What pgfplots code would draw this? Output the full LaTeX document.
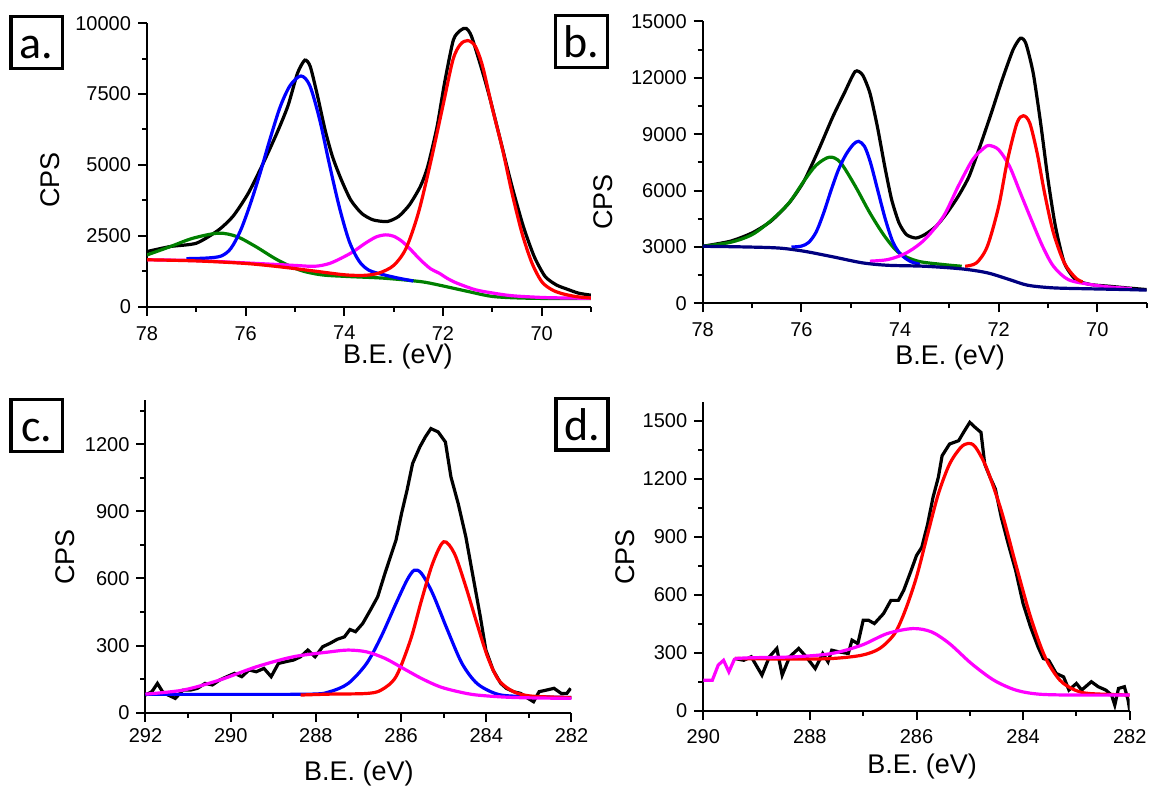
\documentclass[border=0pt]{standalone}
\usepackage{fontspec}
\setmainfont{Liberation Sans}
\newfontfamily\boxfont{Carlito}
\usepackage{pgfplots}
\pgfplotsset{compat=1.18}
\definecolor{cgreen}{RGB}{0,128,0}
\definecolor{cnavy}{RGB}{0,0,128}
\definecolor{cmag}{RGB}{255,0,255}
\definecolor{cred}{RGB}{255,0,0}
\definecolor{cblue}{RGB}{0,0,255}
\pgfplotsset{
  xps/.style={
    scale only axis,
    anchor=center,
    x dir=reverse,
    axis x line*=bottom,
    axis y line*=left,
    axis line style={line width=1pt,-},
    tick style={line width=1pt,black},
    tick align=outside,
    major tick length=4.5pt,
    minor tick length=2.5pt,
    tick label style={font=\fontsize{10}{12}\selectfont},
    /pgf/number format/assume math mode=true,
    /pgf/number format/1000 sep={},
    scaled y ticks=false,
    scaled x ticks=false,
    label style={font=\fontsize{13.5}{16}\selectfont},
    xlabel={B.E. (eV)},
    ylabel={CPS},
    every axis plot/.append style={line width=1.6pt,no marks},
  }
}
\tikzset{boxlab/.style={draw,line width=1.7pt,minimum width=25.9pt,minimum height=25.9pt,inner sep=0pt,text height=17pt,text depth=1pt,font=\boxfont\fontsize{23}{23}\selectfont}}
\begin{document}
\begin{tikzpicture}
\path[use as bounding box] (0,0) rectangle (575.5pt,-395.5pt);

% ---------------- panel a
\begin{axis}[xps,at={(184.5pt,-82.45pt)},width=222pt,height=141.6pt,
  xmin=69,xmax=78,ymin=0,ymax=10000,
  xtick={70,72,74,76,78},minor xtick={69,71,73,75,77},
  ytick={0,2500,5000,7500,10000},minor ytick={1250,3750,6250,8750},
  xticklabel style={yshift=-1.8pt},
  xlabel style={at={(axis description cs:0.565,-0.178)},anchor=center},
  ylabel style={at={(axis description cs:-0.218,0.447)},anchor=center}]
\addplot[black,smooth,tension=0.4] coordinates {
(78,1940) (77.52,2120) (77.0,2235) (76.55,2700) (76.25,3200) (75.95,3990) (75.66,5000) (75.36,6150) (75.14,7100) (74.95,8235) (74.80,8700) (74.69,8470) (74.54,7410) (74.39,6235) (74.24,5290) (74.06,4470) (73.87,3760) (73.65,3290) (73.42,3060) (73.13,3000) (72.90,3180) (72.68,3590) (72.46,4235) (72.31,4940) (72.12,6350) (71.97,7880) (71.79,9410) (71.64,9760) (71.53,9820) (71.42,9530) (71.19,8235) (71.04,7290) (70.82,5760) (70.6,4235) (70.37,2820) (70.15,1760) (69.93,1060) (69.7,760) (69.48,610) (69.25,470) (69.0,400)};
\addplot[cgreen,smooth] coordinates {
(78,1820) (77.52,2120) (77.07,2410) (76.55,2590) (76.18,2470) (75.8,2120) (75.36,1650) (74.91,1290) (74.47,1120) (73.94,1060) (73.2,1000) (72.46,880) (72.09,760) (71.49,530) (70.97,350) (70.2,290) (69,280)};
\addplot[cmag,smooth] coordinates {
(78,1650) (77,1620) (76,1540) (75,1450) (74.6,1420) (74.3,1520) (74.0,1760) (73.8,1960) (73.57,2240) (73.35,2460) (73.16,2530) (73.0,2480) (72.83,2300) (72.65,2000) (72.46,1650) (72.25,1330) (72.08,1180) (71.9,980) (71.71,820) (71.34,590) (70.97,470) (70.6,380) (70.0,320) (69.5,300) (69.0,290)};
\addplot[cblue,smooth] coordinates {
(77.2,1690) (76.8,1710) (76.5,1780) (76.3,2050) (76.1,2700) (75.9,3650) (75.7,4750) (75.5,5950) (75.3,7050) (75.1,7800) (74.88,8140) (74.7,7800) (74.5,6600) (74.3,5000) (74.1,3500) (73.9,2300) (73.7,1600) (73.5,1280) (73.2,1120) (72.9,1000) (72.6,900)};
\addplot[cred,smooth] coordinates {
(78,1650) (77,1610) (76,1520) (75.3,1400) (74.6,1250) (74.0,1120) (73.6,1100) (73.3,1180) (73.0,1450) (72.75,2050) (72.5,3300) (72.25,5100) (72.0,7100) (71.8,8700) (71.65,9250) (71.5,9390) (71.35,9200) (71.2,8500) (71.0,7000) (70.8,5600) (70.6,4000) (70.4,2600) (70.2,1550) (70.0,880) (69.8,600) (69.6,460) (69.3,350) (69.0,300)};
\end{axis}

% ---------------- panel b
\begin{axis}[xps,at={(462.35pt,-81.2pt)},width=222pt,height=141.1pt,
  xmin=69,xmax=78,ymin=0,ymax=15000,
  xtick={70,72,74,76,78},minor xtick={69,71,73,75,77},
  ytick={0,3000,6000,9000,12000,15000},minor ytick={1500,4500,7500,10500,13500},
  xticklabel style={yshift=-1.5pt},
  xlabel style={at={(axis description cs:0.557,-0.19)},anchor=center},
  ylabel style={at={(axis description cs:-0.2245,0.36)},anchor=center}]
\addplot[black,smooth,tension=0.4] coordinates {
(78,3040) (77.44,3310) (77.0,3750) (76.62,4370) (76.25,5340) (75.95,6490) (75.65,8170) (75.36,9940) (75.13,11180) (74.91,12330) (74.76,12150) (74.61,11180) (74.46,9410) (74.31,7290) (74.17,5520) (74.02,4280) (73.87,3660) (73.68,3480) (73.5,3660) (73.27,4100) (73.05,4810) (72.82,5700) (72.6,6760) (72.38,8350) (72.15,10120) (71.93,11890) (71.71,13480) (71.56,14100) (71.45,13830) (71.3,12240) (71.15,9590) (71.0,6580) (70.85,4100) (70.67,2160) (70.44,1270) (70.14,1010) (69.77,920) (69.4,830) (69.0,740)};
\addplot[cgreen,smooth] coordinates {
(78,3040) (77.44,3250) (77.0,3660) (76.62,4400) (76.25,5350) (75.95,6500) (75.7,7350) (75.43,7780) (75.21,7500) (74.91,6250) (74.61,4810) (74.31,3570) (74.02,2690) (73.64,2250) (73.12,2070) (72.75,1980)};
\addplot[cblue,smooth] coordinates {
(76.2,3000) (76.0,3050) (75.85,3250) (75.7,3800) (75.55,4800) (75.4,6000) (75.25,7100) (75.1,7900) (74.95,8450) (74.84,8620) (74.72,8350) (74.6,7500) (74.45,6000) (74.3,4500) (74.15,3300) (74.0,2650) (73.8,2250) (73.6,2080)};
\addplot[cmag,smooth] coordinates {
(74.61,2250) (74.24,2340) (73.87,2690) (73.5,3400) (73.12,4630) (72.82,6230) (72.53,7640) (72.3,8260) (72.19,8400) (72.0,8170) (71.78,7290) (71.56,5870) (71.34,4460) (71.11,3040) (70.89,1980) (70.59,1270) (70.14,1010) (69.77,880) (69.3,790)};
\addplot[cred,smooth] coordinates {
(72.68,1980) (72.45,2160) (72.23,3040) (72.0,5170) (71.82,7640) (71.63,9590) (71.5,9980) (71.37,9590) (71.22,7990) (71.07,5870) (70.89,3750) (70.67,2160) (70.44,1360) (70.3,1150)};
\addplot[cnavy,smooth] coordinates {
(78,3040) (77.22,3010) (76.47,2950) (75.95,2780) (75.36,2480) (74.76,2160) (74.24,2030) (73.5,1980) (72.75,1840) (72.23,1630) (71.78,1270) (71.41,970) (70.89,830) (70.14,780) (69.4,740) (69.0,710)};
\end{axis}

% ---------------- panel c
\begin{axis}[xps,at={(179.25pt,-278.05pt)},width=213pt,height=156.6pt,
  xmin=282,xmax=292,ymin=0,ymax=1400,
  xtick={282,284,286,288,290,292},minor xtick={283,285,287,289,291},
  ytick={0,300,600,900,1200},minor ytick={150,450,750,1050,1350},
  xlabel style={at={(axis description cs:0.501,-0.193)},anchor=center},
  ylabel style={at={(axis description cs:-0.189,0.497)},anchor=center}]
\addplot[black] coordinates {
(292,79) (291.85,94) (291.72,131) (291.6,94) (291.47,79) (291.3,64) (291.12,101) (290.95,101) (290.78,109) (290.6,131) (290.43,124) (290.26,146) (290.09,161) (289.91,176) (289.74,161) (289.57,191) (289.4,183) (289.22,198) (289.05,161) (288.88,220) (288.71,228) (288.53,235) (288.36,250) (288.19,280) (288.02,250) (287.84,295) (287.67,310) (287.5,328) (287.33,339) (287.2,372) (287.07,362) (286.9,399) (286.72,459) (286.55,518) (286.38,622) (286.25,697) (286.12,771) (285.99,890) (285.86,995) (285.73,1114) (285.56,1188) (285.43,1233) (285.3,1270) (285.13,1255) (284.96,1210) (284.83,1054) (284.66,935) (284.48,786) (284.31,607) (284.14,429) (284.01,280) (283.84,190) (283.66,131) (283.53,109) (283.36,94) (283.19,86) (283.02,64) (282.89,49) (282.76,94) (282.59,101) (282.41,109) (282.24,86) (282.11,86) (282.02,109)};
\addplot[cblue,smooth] coordinates {
(292,82) (290,82) (288.1,83) (287.67,94) (287.24,131) (286.81,220) (286.47,339) (286.12,488) (285.86,593) (285.69,637) (285.52,622) (285.26,533) (284.91,369) (284.57,220) (284.22,131) (283.79,86) (283.36,74) (282,68)};
\addplot[cred,smooth] coordinates {
(288.36,79) (287.67,83) (286.81,86) (286.47,101) (286.12,161) (285.78,325) (285.52,503) (285.26,667) (285.0,764) (284.75,712) (284.48,563) (284.22,399) (283.97,250) (283.71,146) (283.36,94) (282.93,74) (282,68)};
\addplot[cmag,smooth] coordinates {
(292,83) (291.12,101) (290.26,146) (289.4,205) (288.53,250) (287.67,272) (287.24,280) (286.81,272) (286.38,243) (285.95,198) (285.52,153) (285.09,116) (284.66,94) (284.22,79) (283.36,68) (282,64)};
\end{axis}

% ---------------- panel d
\begin{axis}[xps,at={(458.25pt,-278.05pt)},width=213.2pt,height=154.6pt,
  xmin=282,xmax=290,ymin=0,ymax=1600,
  xtick={282,284,286,288,290},minor xtick={283,285,287,289},
  ytick={0,300,600,900,1200,1500},minor ytick={150,450,750,1050,1350},
  xticklabel style={yshift=-1.5pt},
  xlabel style={at={(axis description cs:0.513,-0.182)},anchor=center},
  ylabel style={at={(axis description cs:-0.184,0.497)},anchor=center}]
\addplot[black] coordinates {
(289.41,270) (289.24,261) (289.1,279) (288.9,184) (288.76,279) (288.62,322) (288.52,184) (288.38,279) (288.21,322) (288.07,279) (287.9,218) (287.76,296) (287.66,253) (287.59,313) (287.45,304) (287.28,296) (287.21,365) (287.1,347) (287.0,468) (286.9,468) (286.79,451) (286.62,502) (286.48,571) (286.34,571) (286.24,623) (286.1,726) (286.0,803) (285.9,846) (285.79,967) (285.69,1104) (285.59,1208) (285.52,1319) (285.38,1380) (285.21,1397) (285.1,1448) (285.0,1492) (284.9,1466) (284.79,1440) (284.72,1276) (284.62,1208) (284.52,1147) (284.41,1001) (284.28,864) (284.14,726) (284.0,554) (283.86,433) (283.72,330) (283.62,270) (283.52,261) (283.38,193) (283.24,175) (283.14,107) (283.0,141) (282.9,107) (282.72,150) (282.59,124) (282.45,107) (282.34,81) (282.28,29) (282.21,115) (282.1,124) (282.03,55) (282.0,3)};
\addplot[cred,smooth] coordinates {
(289.41,270) (288.28,267) (287.59,270) (287.03,287) (286.69,322) (286.41,399) (286.21,520) (286.0,692) (285.79,915) (285.59,1122) (285.38,1276) (285.17,1362) (285.03,1383) (284.9,1366) (284.69,1259) (284.41,1036) (284.14,760) (283.86,485) (283.59,279) (283.31,158) (283.03,107) (282.76,89) (282,81)};
\addplot[cmag] coordinates {
(290,158) (289.83,158) (289.72,236) (289.62,261) (289.52,201) (289.41,270)};
\addplot[cmag,smooth] coordinates {
(289.41,270) (289.1,274) (288.28,279) (287.59,296) (287.03,339) (286.55,399) (286.07,425) (285.72,408) (285.38,347) (284.97,244) (284.55,158) (284.14,107) (283.72,86) (283.1,81) (282,81)};
\end{axis}

\node[boxlab] at (18.35pt,-21.25pt) {a.};
\node[boxlab] at (290.75pt,-20.75pt) {b.};
\node[boxlab] at (18.35pt,-212.75pt) {c.};
\node[boxlab] at (291pt,-212.1pt) {d.};
\end{tikzpicture}
\end{document}
